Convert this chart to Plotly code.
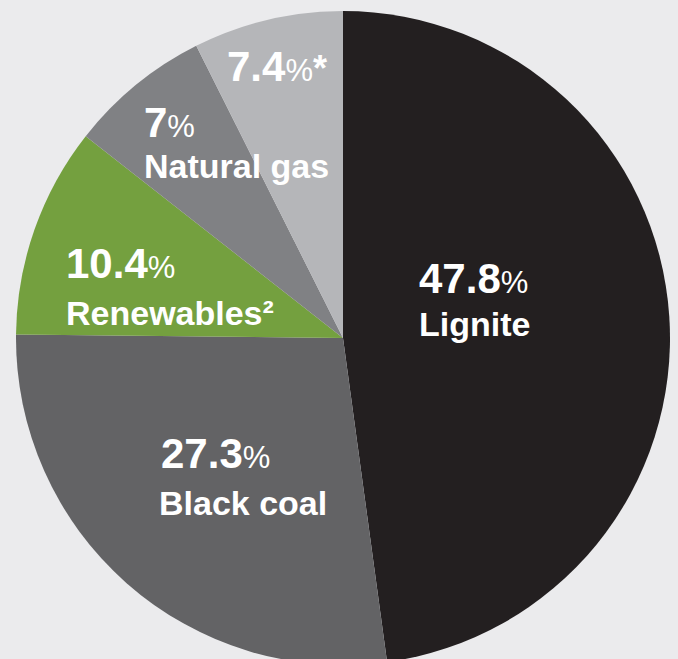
import plotly.graph_objects as go

# Data
labels = ["Lignite", "Black coal", "Renewables", "Natural gas", "Other"]
values = [47.8, 27.3, 10.4, 7.0, 7.4]
colors = ["#231f20", "#636365", "#74a03f", "#808184", "#b5b6b9"]
number_labels = ["47.8", "27.3", "10.4", "7", "7.4"]
name_labels = ["Lignite", "Black coal", "Renewables²", "Natural gas", ""]
suffix = ["", "", "", "", "*"]

W, H = 678, 680
BG = "#ebebed"

# pie geometry in pixels (figure is taller than window; bottom is cropped)
cx, cy, r = 343, 338, 327

fig = go.Figure(go.Pie(
    labels=labels,
    values=values,
    sort=False,
    direction="clockwise",
    rotation=0,
    marker=dict(colors=colors, line=dict(width=0)),
    textinfo="none",
    hoverinfo="none",
    showlegend=False,
    domain=dict(x=[(cx - r) / W, (cx + r) / W], y=[(H - (cy + r)) / H, (H - (cy - r)) / H]),
))

# label positions (left x, centre y) in pixels: number line, name line
num_pos = [(417, 278), (159, 453), (64, 263), (142, 122), (225, 67)]
name_pos = [(417, 324), (157, 503), (64, 313), (142, 166), None]

FONT = "Liberation Sans, Arial, sans-serif"
for i in range(len(labels)):
    x, y = num_pos[i]
    txt = "<b>" + number_labels[i] + "</b><span style='font-size:31px'>%</span>"
    if suffix[i]:
        txt += "<span style='font-size:36px'><b>" + suffix[i] + "</b></span>"
    fig.add_annotation(x=x / W, y=(H - y) / H, xref="paper", yref="paper",
                       xanchor="left", yanchor="middle", showarrow=False,
                       text=txt, font=dict(family=FONT, size=42, color="white"))
    if name_pos[i] is not None and name_labels[i]:
        x, y = name_pos[i]
        fig.add_annotation(x=x / W, y=(H - y) / H, xref="paper", yref="paper",
                           xanchor="left", yanchor="middle", showarrow=False,
                           text="<b>" + name_labels[i] + "</b>",
                           font=dict(family=FONT, size=34, color="white"))

fig.update_layout(
    width=W, height=H,
    margin=dict(l=0, r=0, t=0, b=0),
    paper_bgcolor=BG, plot_bgcolor=BG,
)

fig.write_html("out.html", config={"displayModeBar": False},
               post_script="document.body.style.margin='0';document.body.style.overflow='hidden';document.documentElement.style.overflow='hidden';")
